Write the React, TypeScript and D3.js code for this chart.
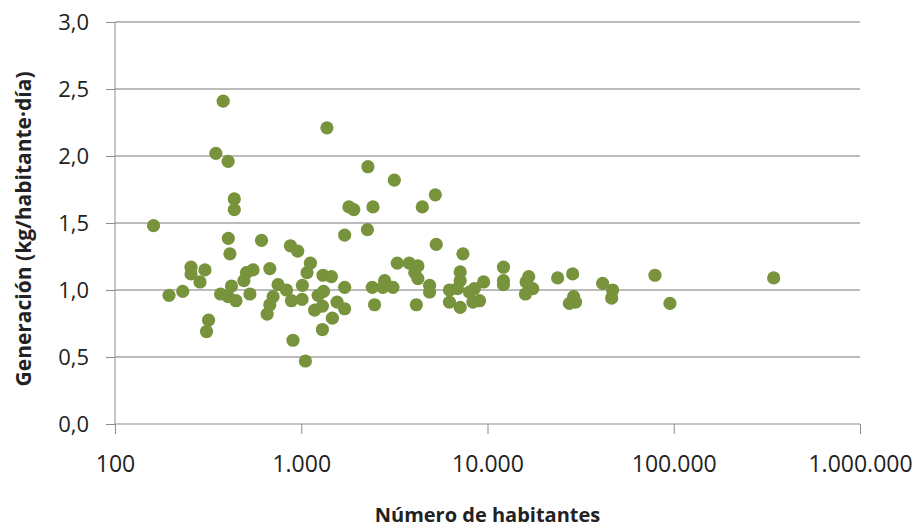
import React, { useEffect, useRef } from "react";
import * as d3 from "d3";

// Número de habitantes (x, log scale)
const habitantes = [
  161, 195, 231, 256, 256, 286, 304, 310, 318, 348, 369, 381, 405, 406, 414,
  422, 405, 437, 437, 446, 492, 508, 551, 530, 612, 678, 751, 833, 706, 678,
  656, 875, 957, 886, 903, 1014, 1010, 1053, 1120, 1074, 1232, 1318, 1309,
  1452, 1180, 1299, 1299, 1469, 1557, 1374, 1710, 1710, 1710, 1803, 1915, 2266,
  2280, 2427, 2406, 2475, 2740, 2804, 3107, 3160, 3280, 3800, 4230, 4070, 4230,
  4150, 4467, 4887, 4887, 5245, 5306, 6250, 6250, 7135, 7135, 6900, 7135, 7380,
  8000, 8500, 8350, 9060, 9530, 12180, 12180, 12180, 16650, 16120, 17490, 15980,
  23810, 28650, 29010, 27530, 29700, 41500, 46970, 46400, 79270, 95400, 344000,
];

// Generación (kg/habitante·día)
const generacion = [
  1.48, 0.96, 0.99, 1.17, 1.12, 1.06, 1.15, 0.69, 0.775, 2.02, 0.97, 2.41, 1.96,
  1.385, 1.27, 1.03, 0.95, 1.68, 1.6, 0.92, 1.07, 1.13, 1.15, 0.97, 1.37, 1.16,
  1.04, 1.0, 0.95, 0.89, 0.82, 1.33, 1.29, 0.92, 0.625, 1.035, 0.93, 0.47, 1.2,
  1.13, 0.96, 0.99, 1.11, 1.1, 0.85, 0.88, 0.705, 0.79, 0.91, 2.21, 1.41, 1.02,
  0.86, 1.62, 1.6, 1.45, 1.92, 1.62, 1.02, 0.89, 1.02, 1.07, 1.02, 1.82, 1.2,
  1.2, 1.18, 1.13, 1.085, 0.89, 1.62, 1.035, 0.985, 1.71, 1.34, 1.0, 0.91,
  1.135, 1.07, 1.01, 0.87, 1.27, 0.985, 1.01, 0.91, 0.92, 1.06, 1.17, 1.07,
  1.04, 1.1, 1.06, 1.01, 0.97, 1.09, 1.12, 0.95, 0.9, 0.91, 1.05, 1.0, 0.94,
  1.11, 0.9, 1.09,
];

const xTicks = [100, 1000, 10000, 100000, 1000000];
const yTicks = [0, 0.5, 1, 1.5, 2, 2.5, 3];

const W = 914;
const H = 529;

export default function App() {
  const ref = useRef<SVGSVGElement>(null);

  useEffect(() => {
    const svg = d3.select(ref.current);
    svg.selectAll("*").remove();

    const left = 115;
    const right = 860;
    const top = 22;
    const bottom = 424;

    const x = d3.scaleLog().domain([100, 1000000]).range([left, right]);
    const y = d3.scaleLinear().domain([0, 3]).range([bottom, top]);

    const font = "'Open Sans', sans-serif";

    // gridlines
    svg
      .append("g")
      .selectAll("line")
      .data(yTicks.filter((d) => d > 0))
      .enter()
      .append("line")
      .attr("x1", left)
      .attr("x2", right)
      .attr("y1", (d) => y(d))
      .attr("y2", (d) => y(d))
      .attr("stroke", "#a6a6a6")
      .attr("stroke-width", 1.3);

    // y axis
    const yAxis = d3
      .axisLeft(y)
      .tickValues(yTicks)
      .tickSize(9)
      .tickPadding(17)
      .tickFormat((d) => d3.format(".1f")(d as number).replace(".", ","));
    const gy = svg.append("g").attr("transform", `translate(${left},0)`).call(yAxis);
    gy.selectAll("line").attr("stroke", "#8c8c8c");
    gy.select(".domain").attr("stroke", "#8c8c8c").attr("d", `M0,${top}V${bottom}`);
    gy.selectAll("text")
      .attr("font-family", font)
      .attr("font-size", 22)
      .attr("fill", "#222")
      .attr("dy", "0.35em");

    // x axis
    const fmt = d3.formatLocale({
      decimal: ",",
      thousands: ".",
      grouping: [3],
      currency: ["", ""],
    }).format(",d");
    const xAxis = d3
      .axisBottom(x)
      .tickValues(xTicks)
      .tickSize(10)
      .tickPadding(22)
      .tickFormat((d) => fmt(d as number));
    const gx = svg.append("g").attr("transform", `translate(0,${bottom})`).call(xAxis);
    gx.selectAll("line").attr("stroke", "#8c8c8c");
    gx.select(".domain").attr("stroke", "#8c8c8c").attr("d", `M${left},0H${right}`);
    gx.selectAll("text")
      .attr("font-family", font)
      .attr("font-size", 23)
      .attr("fill", "#222");

    // points
    svg
      .append("g")
      .selectAll("circle")
      .data(habitantes.map((h, i) => ({ h, g: generacion[i] })))
      .enter()
      .append("circle")
      .attr("cx", (d) => x(d.h))
      .attr("cy", (d) => y(d.g))
      .attr("r", 6.6)
      .attr("fill", "#77933c");

    // axis titles
    svg
      .append("text")
      .attr("x", (left + right) / 2)
      .attr("y", 522)
      .attr("text-anchor", "middle")
      .attr("font-family", font)
      .attr("font-weight", "bold")
      .attr("font-size", 20)
      .attr("fill", "#222")
      .text("Número de habitantes");

    svg
      .append("text")
      .attr("transform", `translate(31,${(top + bottom) / 2 + 6}) rotate(-90)`)
      .attr("text-anchor", "middle")
      .attr("font-family", font)
      .attr("font-weight", "bold")
      .attr("font-size", 21)
      .attr("fill", "#222")
      .text("Generación (kg/habitante·día)");
  }, []);

  return (
    <svg
      ref={ref}
      width={W}
      height={H}
      style={{ position: "absolute", left: 0, top: 0, background: "#fff" }}
    />
  );
}
